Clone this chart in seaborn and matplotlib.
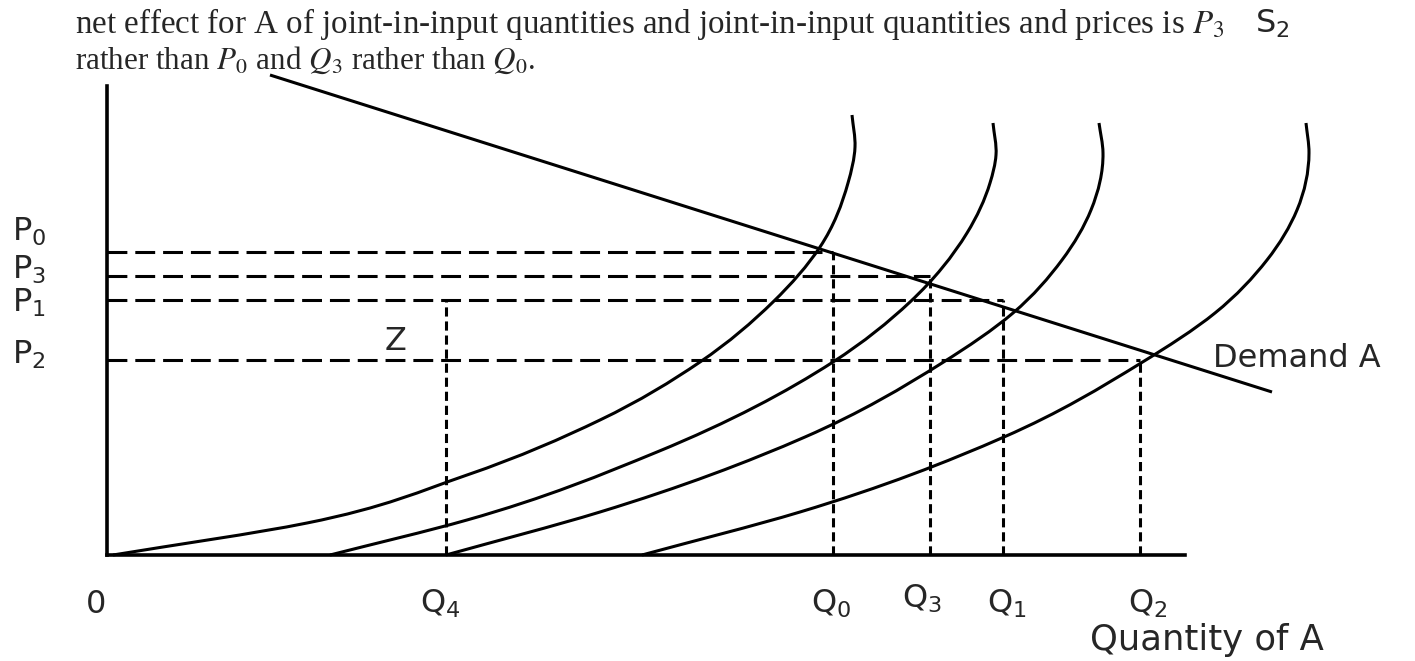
import numpy as np
import matplotlib
matplotlib.use("Agg")
import matplotlib.pyplot as plt
import seaborn as sns
from matplotlib.path import Path
from matplotlib.patches import PathPatch

# ---- data (quantity of A on x, price on y) ----
# supply curves: points along each curve, from the quantity axis up to the bend
supply_a_q = [0.6, 20.0, 36.0, 49.3, 59.3, 66.6, 71.3, 74.1, 74.8, 74.5]
supply_a_p = [0.0, 3.2, 8.0, 13.5, 19.3, 25.3, 30.8, 37.2, 40.8, 44.0]
supply_b_q = [22.3, 36.0, 55.0, 72.6, 80.3, 86.0, 88.3, 88.9, 88.6]
supply_b_p = [0.0, 3.5, 10.3, 19.3, 25.3, 32.2, 37.2, 40.0, 43.2]
supply_c_q = [33.9, 49.3, 69.8, 83.5, 90.6, 95.5, 98.4, 99.6, 99.2]
supply_c_p = [0.0, 4.3, 11.8, 19.2, 24.2, 29.5, 34.5, 40.2, 43.2]
supply_d_q = [53.5, 69.3, 89.7, 103.4, 110.8, 116.0, 119.0, 120.2, 119.9]
supply_d_p = [0.0, 4.3, 11.8, 19.2, 24.2, 29.5, 34.5, 40.2, 43.2]

# demand for A (straight line)
demand_q = [16.3, 116.5]
demand_p = [48.0, 16.3]

# equilibrium prices and quantities
price_labels = ["P_0", "P_3", "P_1", "P_2"]
price_values = [30.3, 27.9, 25.5, 19.5]
qty_labels = ["Q_0", "Q_3", "Q_1", "Q_2"]
qty_values = [72.6, 82.3, 89.6, 103.3]
q4_value = 33.9          # Q4 guide rises to the P1 level
q4_price = 25.5

axis_q_max = 107.8
axis_p_max = 46.9

# ---- figure ----
sns.set_theme(style="white")
plt.rcParams["font.family"] = ["DejaVu Sans"]

W, H = 1415, 661
fig = plt.figure(figsize=(W / 100, H / 100), dpi=100)
fig.patch.set_facecolor("white")
ax = fig.add_axes([107 / W, (H - 555) / H, (1185 - 107) / W, (555 - 86) / H])
ax.set_xlim(0, axis_q_max)
ax.set_ylim(0, axis_p_max)
ax.patch.set_alpha(0)
for side in ("top", "right"):
    ax.spines[side].set_visible(False)
for side in ("left", "bottom"):
    ax.spines[side].set_color("black")
    ax.spines[side].set_linewidth(2.6)
ax.set_xticks([])
ax.set_yticks([])

LW = 2.2
H_DASH = (0, (6.5, 2.6))
V_DASH = (0, (3.0, 1.6))


def line(xs, ys, **kw):
    sns.lineplot(x=xs, y=ys, ax=ax, color="black", lw=LW, estimator=None,
                 sort=False, clip_on=False, **kw)


# dashed guides
for q, p in zip(qty_values, price_values):
    line([0, q], [p, p], linestyle=H_DASH)
    line([q, q], [0, p], linestyle=V_DASH)
line([q4_value, q4_value], [0, q4_price], linestyle=V_DASH)

# demand
line(demand_q, demand_p, solid_capstyle="butt")


# supply curves: quantity as a smooth (cubic Hermite) function of price,
# passing through every point and drawn as Bezier segments
def smooth_path(q, p):
    x = np.asarray(q, float)
    y = np.asarray(p, float)
    h = np.diff(y)
    s = np.diff(x) / h
    m = np.empty_like(x)
    m[0], m[-1] = s[0], s[-1]
    m[1:-1] = (h[:-1] * s[1:] + h[1:] * s[:-1]) / (h[:-1] + h[1:])
    # keep the slope between its neighbouring secants where they agree
    for i in range(1, len(x) - 1):
        lo, hi = sorted((s[i - 1], s[i]))
        if lo * hi > 0:
            m[i] = min(max(m[i], lo), hi)
    verts, codes = [(x[0], y[0])], [Path.MOVETO]
    for i in range(len(x) - 1):
        verts += [(x[i] + m[i] * h[i] / 3, y[i] + h[i] / 3),
                  (x[i + 1] - m[i + 1] * h[i] / 3, y[i + 1] - h[i] / 3),
                  (x[i + 1], y[i + 1])]
        codes += [Path.CURVE4] * 3
    return Path(verts, codes)


for q, p in [(supply_a_q, supply_a_p), (supply_b_q, supply_b_p),
             (supply_c_q, supply_c_p), (supply_d_q, supply_d_p)]:
    ax.add_patch(PathPatch(smooth_path(q, p), fill=False, lw=LW,
                           ec="black", clip_on=False, capstyle="butt"))

# ---- labels ----
LABEL_FS = 23
price_nudge = [2.0, 0.6, -0.3, 0.5]
for lab, p, dy in zip(price_labels, price_values, price_nudge):
    ax.text(-9.5, p + dy, rf"$\mathregular{{{lab}}}$", fontsize=LABEL_FS,
            ha="left", va="center", clip_on=False)

ax.text(-1.1, -5.8, "0", fontsize=LABEL_FS, ha="center", va="baseline")
ax.text(q4_value - 0.6, -5.8, r"$\mathregular{Q_4}$", fontsize=LABEL_FS,
        ha="center", va="baseline")
qty_nudge = [-0.2, -0.8, 0.4, 0.8]
qty_base = [-5.8, -5.3, -5.8, -5.8]
for lab, q, dx, b in zip(qty_labels, qty_values, qty_nudge, qty_base):
    ax.text(q + dx, b, rf"$\mathregular{{{lab}}}$", fontsize=LABEL_FS,
            ha="center", va="baseline")

ax.text(98.3, -9.5, "Quantity of A", fontsize=25.5, ha="left",
        va="baseline")
ax.text(110.6, 18.8, "Demand A", fontsize=LABEL_FS, ha="left",
        va="baseline")
ax.text(28.9, 21.4, "Z", fontsize=LABEL_FS, ha="center", va="center")

# ---- running text above the diagram ----
fig.text(75 / W, 1 - 33 / H,
         "net effect for A of joint-in-input quantities and joint-in-input "
         "quantities and prices is $P_3$",
         family="Liberation Serif", fontsize=23.8, math_fontfamily="stix",
         va="baseline", ha="left")
fig.text(75 / W, 1 - 69 / H,
         "rather than $P_0$ and $Q_3$ rather than $Q_0$.",
         family="Liberation Serif", fontsize=22.4, math_fontfamily="stix",
         va="baseline", ha="left")
fig.text(1255 / W, 1 - 33 / H, r"$\mathregular{S_2}$", fontsize=LABEL_FS,
         va="baseline", ha="left")

fig.savefig("out.png", dpi=100, facecolor="white")
